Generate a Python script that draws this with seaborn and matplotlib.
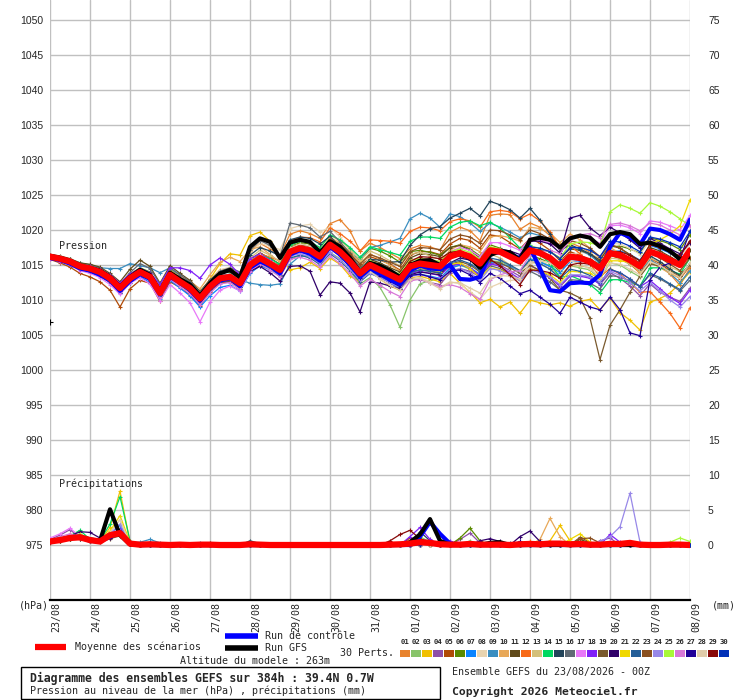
import matplotlib
matplotlib.use("Agg")
import matplotlib.pyplot as plt
import numpy as np
import pandas as pd
import seaborn as sns
from matplotlib.lines import Line2D
from matplotlib.patches import Rectangle
from matplotlib.transforms import ScaledTranslation

# Diagramme des ensembles GEFS (pression + precipitations), pas de 6h sur 384h
sns.set_style("white")
plt.rcParams['font.family'] = ['DejaVu Sans Mono', 'DejaVu Sans']

hours = list(range(0, 385, 6))
days = ['23/08', '24/08', '25/08', '26/08', '27/08', '28/08', '29/08', '30/08', '31/08',
        '01/09', '02/09', '03/09', '04/09', '05/09', '06/09', '07/09', '08/09']
perts = ['%02d' % k for k in range(1, 31)]
colors = ['#e8832e', '#88c46a', '#f0c000', '#8e4fa8', '#b04a06', '#5a8a00', '#0a84ff', '#e8d4b0',
          '#3a8ec0', '#e8a858', '#604a1a', '#f86a18', '#d4c07a', '#00d860', '#22445a', '#606a74',
          '#e878f8', '#8020f8', '#7a5a2e', '#30006a', '#f0d800', '#245e98', '#8a5020', '#9888e8',
          '#a8f838', '#d878d8', '#200098', '#e0ccaa', '#880808', '#0030b8']

# ---- pression (hPa) ----
p_mean = [1016.2,1015.9,1015.5,1014.8, 1014.5,1014.0,1013.1,1011.7, 1013.1,1014.0,1013.3,1011.0, 1013.6,1012.6,1011.7,1010.2,
          1011.9,1013.1,1013.3,1012.4, 1015.0,1016.0,1015.2,1014.3, 1016.9,1017.4,1017.1,1016.2, 1017.9,1016.9,1015.5,1013.8,
          1015.0,1014.3,1013.6,1012.9, 1014.8,1015.2,1015.0,1014.8, 1016.2,1016.7,1016.2,1015.2, 1017.1,1016.9,1016.2,1015.5,
          1017.1,1016.7,1016.0,1014.8, 1016.2,1016.0,1015.5,1014.5, 1016.7,1016.4,1015.7,1014.8, 1016.9,1016.4,1015.7,1015.0,
          1017.1]
p_ctrl = [1016.0,1015.7,1015.2,1014.5, 1014.2,1013.6,1012.8,1011.3, 1012.7,1013.7,1013.0,1010.8, 1013.3,1012.5,1011.4,1009.9,
          1011.7,1012.8,1013.1,1012.0, 1014.6,1015.5,1014.9,1013.8, 1016.5,1017.1,1016.6,1015.6, 1017.6,1016.5,1015.0,1013.3,
          1014.5,1013.8,1012.9,1012.3, 1014.2,1014.9,1014.5,1014.4, 1015.0,1013.0,1012.9,1013.3, 1016.7,1016.8,1016.6,1015.9,
          1017.5,1014.5,1011.4,1011.2, 1012.4,1012.5,1012.4,1013.6, 1017.6,1019.6,1019.0,1017.9, 1020.2,1020.0,1019.4,1018.6,
          1021.5]
p_gfs = [1016.3,1016.0,1015.6,1014.9, 1014.6,1014.2,1013.3,1011.9, 1013.3,1014.3,1013.6,1011.2, 1013.9,1013.0,1012.2,1010.6,
         1012.4,1013.8,1014.3,1013.2, 1017.6,1018.8,1018.3,1016.0, 1018.2,1018.6,1018.3,1016.8, 1018.4,1017.6,1016.0,1014.0,
         1015.3,1014.9,1014.2,1013.3, 1015.0,1015.6,1015.7,1015.0, 1016.3,1016.5,1016.0,1014.6, 1016.4,1017.0,1016.8,1015.7,
         1018.6,1018.9,1018.6,1017.5, 1018.8,1019.2,1018.9,1017.6, 1019.4,1019.7,1019.4,1018.0, 1018.2,1017.7,1017.0,1015.8,
         1016.2]

p01 = [1016.4,1016.1,1015.8,1015.0, 1014.8,1014.3,1013.4,1012.0, 1013.6,1014.5,1013.8,1011.6, 1014.2,1013.3,1012.4,1011.0,
       1012.9,1014.3,1014.5,1013.6, 1017.0,1018.1,1017.3,1016.4, 1019.4,1019.9,1019.5,1018.8, 1020.9,1021.5,1019.9,1017.0,
       1018.1,1017.5,1016.7,1015.9, 1017.3,1017.8,1017.6,1017.1, 1019.7,1020.4,1019.9,1018.5, 1022.1,1022.3,1022.2,1020.1,
       1021.0,1020.4,1019.2,1017.6, 1018.2,1017.6,1016.8,1015.3, 1017.0,1016.5,1015.2,1013.8, 1015.8,1014.9,1013.7,1012.1,
       1014.6]
p02 = [1016.0,1015.7,1015.3,1014.6, 1014.2,1013.7,1012.8,1011.3, 1012.8,1013.6,1012.9,1010.5, 1013.0,1012.1,1011.1,1009.5,
       1011.4,1012.5,1012.6,1011.6, 1014.1,1015.2,1014.3,1013.4, 1015.8,1016.4,1016.1,1015.0, 1016.8,1015.9,1014.1,1012.3,
       1013.2,1011.8,1009.3,1006.1, 1010.0,1012.3,1012.8,1013.0, 1014.6,1015.0,1014.4,1013.5, 1015.6,1015.5,1014.9,1014.1,
       1015.9,1015.5,1014.9,1013.4, 1014.9,1014.6,1014.3,1013.0, 1015.3,1015.0,1014.1,1013.3, 1015.4,1014.8,1013.9,1013.2,
       1015.3]
p03 = [1016.3,1016.0,1015.6,1014.9, 1014.6,1014.1,1013.2,1011.9, 1013.4,1014.4,1013.6,1011.4, 1014.1,1013.2,1012.3,1010.9,
       1013.0,1015.2,1016.6,1016.4, 1019.2,1019.7,1018.4,1016.0, 1014.3,1014.6,1015.4,1014.5, 1016.0,1015.1,1013.4,1012.6,
       1014.2,1013.0,1012.0,1011.4, 1013.1,1013.4,1013.0,1012.6, 1013.8,1012.4,1011.1,1009.6, 1010.1,1009.0,1009.7,1008.1,
       1010.0,1009.6,1009.3,1009.6, 1009.1,1009.8,1010.1,1008.6, 1010.3,1008.2,1007.1,1005.7, 1009.7,1010.2,1011.0,1012.4,
       1014.0]
p04 = [1016.1,1015.8,1015.4,1014.6, 1014.3,1013.8,1012.8,1011.3, 1012.9,1013.8,1013.0,1010.6, 1013.3,1012.2,1011.2,1009.6,
       1011.3,1012.4,1012.6,1011.5, 1014.3,1015.4,1014.7,1013.6, 1016.2,1016.9,1016.8,1015.6, 1017.3,1016.4,1015.0,1013.1,
       1014.2,1013.3,1012.4,1011.6, 1013.0,1012.9,1012.5,1012.2, 1013.9,1014.5,1014.1,1013.3, 1015.3,1015.0,1014.2,1013.4,
       1014.9,1014.2,1013.3,1011.9, 1013.4,1013.5,1013.3,1012.2, 1013.9,1013.1,1012.0,1010.6, 1012.3,1011.1,1010.4,1009.8,
       1011.7]
p05 = [1015.8,1015.3,1014.7,1013.8, 1013.3,1012.6,1011.4,1009.0, 1011.6,1012.8,1012.4,1009.8, 1012.6,1011.8,1010.7,1009.2,
       1011.1,1012.4,1012.7,1011.6, 1014.0,1015.1,1014.6,1013.9, 1016.5,1017.0,1016.9,1016.1, 1018.1,1017.4,1016.3,1014.8,
       1016.2,1015.7,1015.1,1014.3, 1016.4,1016.9,1016.9,1016.5, 1018.0,1018.8,1018.5,1017.4, 1019.3,1019.1,1018.2,1017.3,
       1018.8,1018.1,1017.1,1015.6, 1016.9,1016.4,1015.7,1014.5, 1016.4,1015.9,1015.1,1014.0, 1016.0,1015.2,1014.2,1013.0,
       1014.9]
p06 = [1016.4,1016.2,1015.8,1015.2, 1014.9,1014.5,1013.6,1012.3, 1013.7,1014.6,1014.0,1011.8, 1014.3,1013.4,1012.6,1011.2,
       1012.8,1013.9,1014.0,1013.1, 1015.5,1016.4,1015.6,1014.9, 1017.6,1018.2,1018.0,1017.0, 1018.8,1017.9,1016.8,1015.6,
       1017.4,1017.0,1016.3,1015.4, 1016.9,1017.1,1016.8,1016.4, 1017.5,1017.9,1017.3,1016.3, 1017.9,1017.4,1016.4,1015.3,
       1016.4,1015.9,1015.3,1014.1, 1015.8,1015.9,1015.8,1015.1, 1017.6,1017.7,1017.3,1016.7, 1018.9,1018.5,1018.0,1017.2,
       1019.3]
p07 = [1016.1,1015.8,1015.3,1014.6, 1014.2,1013.6,1012.6,1011.0, 1012.5,1013.3,1012.5,1010.2, 1012.8,1011.7,1010.6,1009.0,
       1010.6,1011.8,1012.1,1011.3, 1013.8,1014.9,1014.3,1013.6, 1016.3,1017.0,1016.8,1016.0, 1017.8,1016.6,1015.1,1013.4,
       1014.3,1013.4,1012.5,1011.7, 1013.5,1013.7,1013.4,1013.1, 1014.5,1015.0,1014.6,1013.7, 1015.5,1015.2,1014.8,1014.1,
       1015.8,1015.4,1014.8,1013.9, 1015.5,1015.6,1015.4,1014.8, 1017.0,1017.0,1016.5,1015.7, 1017.8,1017.3,1016.7,1016.2,
       1018.3]
p08 = [1016.4,1016.2,1015.9,1015.3, 1015.0,1014.5,1013.6,1012.2, 1013.5,1014.3,1013.6,1011.5, 1014.0,1013.2,1012.4,1011.1,
       1012.9,1014.3,1014.7,1013.9, 1016.8,1018.1,1017.7,1017.2, 1020.2,1020.6,1020.8,1019.7, 1020.4,1019.0,1017.2,1015.3,
       1016.0,1014.8,1013.6,1012.4, 1013.4,1013.2,1012.6,1011.8, 1012.6,1012.3,1011.2,1010.1, 1011.8,1012.4,1012.8,1012.9,
       1015.1,1015.6,1015.4,1014.6, 1016.4,1016.8,1016.7,1015.9, 1018.1,1018.0,1017.4,1016.5, 1018.5,1018.0,1017.0,1016.2,
       1018.0]
p09 = [1016.5,1016.2,1015.8,1015.3, 1015.0,1014.6,1014.5,1014.5, 1015.2,1014.9,1014.6,1013.9, 1014.6,1013.5,1012.6,1011.1,
       1012.5,1013.5,1013.7,1012.9, 1012.4,1012.2,1012.1,1012.3, 1015.1,1016.3,1016.4,1015.8, 1018.3,1017.6,1016.6,1015.9,
       1017.5,1017.8,1018.3,1018.8, 1021.6,1022.4,1021.7,1020.4, 1022.3,1021.9,1021.0,1019.8, 1021.0,1020.4,1019.7,1018.9,
       1019.6,1019.2,1018.5,1017.4, 1017.7,1017.1,1016.4,1015.2, 1017.1,1016.5,1015.4,1014.1, 1015.7,1014.9,1013.8,1012.5,
       1014.2]
p10 = [1016.2,1015.9,1015.6,1014.9, 1014.7,1014.2,1013.3,1011.8, 1013.4,1014.2,1013.7,1011.5, 1014.2,1013.4,1012.7,1011.6,
       1013.6,1015.4,1016.1,1015.5, 1017.2,1017.6,1016.5,1015.4, 1017.6,1018.0,1017.6,1016.9, 1018.9,1018.2,1016.9,1015.3,
       1016.6,1015.8,1015.0,1014.1, 1015.7,1016.0,1015.8,1015.5, 1017.1,1017.9,1017.6,1016.9, 1019.0,1019.2,1018.9,1018.4,
       1020.4,1020.2,1019.6,1018.2, 1019.4,1018.6,1017.4,1015.9, 1017.5,1016.7,1015.4,1013.8, 1015.4,1014.6,1013.8,1013.1,
       1015.0]
p11 = [1016.5,1016.3,1015.9,1015.3, 1015.1,1014.7,1013.8,1012.6, 1014.4,1015.7,1014.8,1012.4, 1014.9,1013.8,1012.8,1011.2,
       1012.9,1014.0,1014.2,1013.2, 1015.8,1016.7,1016.0,1015.1, 1017.5,1017.9,1017.7,1016.8, 1018.4,1017.5,1016.1,1014.5,
       1015.8,1015.3,1014.6,1014.0, 1016.0,1016.6,1016.5,1016.2, 1017.5,1017.8,1017.1,1016.0, 1017.5,1017.0,1016.3,1015.7,
       1017.3,1017.2,1016.9,1016.0, 1017.3,1017.1,1016.6,1015.7, 1017.8,1017.4,1016.5,1015.6, 1017.5,1017.0,1016.2,1015.4,
       1017.1]
p12 = [1016.3,1016.0,1015.6,1014.8, 1014.5,1014.0,1013.1,1011.6, 1013.0,1013.9,1013.1,1010.8, 1013.5,1012.5,1011.6,1010.1,
       1011.9,1013.2,1013.4,1012.7, 1015.4,1016.6,1016.1,1015.6, 1018.4,1019.0,1018.9,1018.3, 1020.3,1019.5,1018.4,1017.0,
       1018.6,1018.5,1018.4,1018.1, 1019.8,1020.4,1020.3,1019.9, 1021.2,1021.6,1021.3,1020.4, 1022.6,1022.8,1022.6,1021.6,
       1022.3,1021.3,1019.7,1017.5, 1017.8,1016.6,1015.1,1013.3, 1014.5,1013.7,1012.5,1011.1, 1011.2,1009.7,1008.1,1006.0,
       1008.9]
p13 = [1016.3,1016.0,1015.6,1014.9, 1014.7,1014.2,1013.3,1011.9, 1013.4,1014.3,1013.6,1011.4, 1014.0,1013.1,1012.2,1010.8,
       1012.6,1013.9,1014.1,1013.3, 1016.0,1017.1,1016.4,1015.5, 1018.1,1018.6,1018.3,1017.4, 1019.2,1018.5,1017.3,1015.7,
       1017.0,1016.4,1015.6,1014.9, 1016.6,1016.8,1016.3,1015.8, 1016.9,1017.1,1016.3,1015.1, 1016.6,1016.0,1015.0,1014.1,
       1015.5,1015.1,1014.5,1013.4, 1014.9,1014.9,1014.6,1013.8, 1016.0,1015.8,1015.1,1014.2, 1016.0,1015.4,1014.7,1014.1,
       1016.2]
p14 = [1016.2,1015.8,1015.4,1014.7, 1014.4,1013.8,1012.9,1011.5, 1012.9,1013.8,1013.1,1010.8, 1013.5,1012.5,1011.6,1010.2,
       1012.0,1013.3,1013.6,1012.8, 1015.4,1016.5,1015.9,1015.1, 1017.8,1018.4,1018.3,1017.5, 1019.3,1018.6,1017.5,1016.1,
       1017.6,1017.2,1016.8,1016.4, 1018.4,1019.0,1019.0,1018.8, 1020.4,1021.1,1021.3,1020.6, 1021.1,1020.3,1018.9,1017.4,
       1017.8,1016.6,1015.2,1013.2, 1013.5,1012.9,1012.2,1011.0, 1012.9,1012.9,1012.5,1012.0, 1014.6,1014.6,1014.2,1013.7,
       1016.0]
p15 = [1016.0,1015.6,1015.2,1014.4, 1014.0,1013.4,1012.5,1011.0, 1012.5,1013.5,1012.9,1010.6, 1013.2,1012.4,1011.6,1010.2,
       1012.1,1013.6,1014.2,1013.6, 1016.4,1017.5,1017.0,1016.3, 1018.6,1019.0,1018.8,1018.0, 1019.1,1017.6,1016.0,1014.3,
       1015.8,1015.7,1015.4,1015.5, 1017.8,1019.3,1020.2,1020.5, 1021.7,1022.4,1023.1,1022.0, 1024.1,1023.6,1022.9,1021.7,
       1023.1,1021.4,1019.4,1017.0, 1017.9,1017.3,1016.6,1015.4, 1016.7,1016.3,1015.5,1014.6, 1016.3,1015.5,1014.4,1013.5,
       1015.1]
p16 = [1016.4,1016.1,1015.7,1015.0, 1014.8,1014.4,1013.6,1012.3, 1013.9,1015.2,1014.5,1012.3, 1014.6,1013.6,1012.6,1011.1,
       1012.8,1014.1,1014.6,1014.0, 1017.1,1018.5,1017.8,1016.2, 1021.0,1020.7,1020.3,1019.0, 1019.8,1018.3,1016.7,1014.6,
       1015.5,1014.7,1013.9,1013.0, 1014.5,1014.6,1014.2,1013.8, 1014.9,1015.2,1014.5,1013.3, 1014.9,1014.5,1013.6,1012.8,
       1014.1,1013.4,1012.6,1011.4, 1012.9,1012.8,1012.4,1011.6, 1013.5,1013.3,1012.7,1012.0, 1013.6,1013.0,1012.2,1011.3,
       1012.8]
p17 = [1015.9,1015.5,1015.0,1014.2, 1013.8,1013.2,1012.2,1010.8, 1012.4,1013.2,1012.3,1009.9, 1012.2,1011.0,1009.6,1006.9,
       1009.7,1011.4,1012.0,1011.3, 1014.0,1015.2,1014.6,1013.7, 1016.3,1016.8,1016.5,1015.6, 1017.3,1016.3,1015.0,1013.3,
       1014.6,1014.0,1013.4,1012.8, 1014.9,1015.5,1015.5,1015.4, 1016.9,1017.5,1017.1,1016.2, 1018.2,1018.2,1017.7,1017.1,
       1018.8,1018.6,1018.1,1017.3, 1019.0,1019.1,1018.8,1018.1, 1020.6,1020.7,1020.3,1019.5, 1021.3,1021.1,1020.6,1020.0,
       1022.1]
p18 = [1016.2,1015.9,1015.6,1015.0, 1014.8,1014.4,1013.6,1012.4, 1013.7,1014.5,1013.9,1012.2, 1014.6,1014.6,1014.2,1013.1,
       1015.0,1016.0,1015.1,1013.6, 1015.9,1016.6,1015.7,1014.6, 1017.2,1017.6,1017.2,1016.2, 1017.7,1016.6,1015.1,1013.3,
       1014.4,1013.6,1012.8,1012.0, 1013.8,1014.1,1013.8,1013.5, 1014.8,1015.2,1014.6,1013.5, 1015.2,1014.8,1013.9,1013.0,
       1014.5,1013.9,1013.2,1012.0, 1013.5,1013.4,1013.1,1012.3, 1014.3,1013.9,1013.0,1011.9, 1012.8,1011.6,1010.4,1009.5,
       1011.4]
p19 = [1016.1,1015.8,1015.4,1014.7, 1014.4,1013.9,1013.0,1011.6, 1013.0,1013.9,1013.2,1010.9, 1013.4,1012.4,1011.5,1010.0,
       1011.7,1012.9,1013.1,1012.2, 1014.7,1015.7,1014.9,1014.0, 1016.6,1017.0,1016.7,1015.8, 1017.5,1016.5,1015.1,1013.4,
       1014.5,1013.8,1013.0,1012.3, 1014.0,1014.3,1014.1,1013.8, 1015.1,1015.5,1015.0,1014.0, 1015.6,1015.3,1014.6,1013.8,
       1015.0,1014.2,1013.1,1011.4, 1011.0,1010.3,1007.4,1001.5, 1006.4,1008.6,1011.1,1013.4, 1015.2,1014.8,1014.1,1013.4,
       1015.2]
p20 = [1016.0,1015.6,1015.2,1014.5, 1014.2,1013.6,1012.7,1011.3, 1012.8,1013.7,1013.0,1010.7, 1013.3,1012.3,1011.4,1009.9,
       1011.6,1012.7,1012.8,1011.8, 1014.1,1014.8,1013.9,1012.7, 1014.8,1014.9,1014.1,1010.7, 1012.6,1012.4,1011.0,1008.3,
       1012.6,1012.4,1012.0,1011.6, 1013.6,1014.0,1013.8,1013.6, 1015.3,1016.0,1015.7,1014.8, 1017.2,1017.3,1017.0,1016.5,
       1018.4,1018.4,1018.0,1016.7, 1021.7,1022.1,1020.3,1019.2, 1020.4,1019.6,1018.6,1017.4, 1018.8,1018.1,1017.3,1016.6,
       1018.2]
p21 = [1016.2,1015.9,1015.5,1014.8, 1014.6,1014.1,1013.3,1011.9, 1013.3,1014.2,1013.5,1011.3, 1013.9,1012.9,1012.0,1010.5,
       1012.2,1013.4,1013.5,1012.6, 1015.1,1016.0,1015.2,1014.4, 1016.9,1017.3,1017.0,1016.1, 1017.7,1016.6,1015.3,1013.5,
       1014.6,1013.9,1013.2,1012.5, 1014.3,1014.6,1014.3,1014.0, 1015.1,1015.3,1014.5,1013.2, 1014.6,1014.3,1013.6,1012.8,
       1014.5,1014.1,1013.6,1012.5, 1014.1,1014.0,1013.8,1013.0, 1015.6,1015.6,1015.4,1015.0, 1018.0,1018.6,1019.4,1020.6,
       1024.3]
p22 = [1016.0,1015.7,1015.3,1014.6, 1014.3,1013.8,1012.9,1011.5, 1012.9,1013.7,1013.0,1010.7, 1013.2,1012.2,1011.3,1009.8,
       1011.4,1012.6,1012.8,1011.9, 1014.4,1015.3,1014.5,1013.6, 1016.0,1016.4,1016.0,1015.1, 1016.6,1015.6,1014.2,1012.6,
       1013.8,1013.2,1012.6,1012.0, 1013.9,1014.3,1014.1,1013.9, 1015.3,1015.7,1015.2,1014.2, 1016.0,1015.7,1015.0,1014.2,
       1015.7,1015.2,1014.4,1013.1, 1014.4,1014.1,1013.5,1012.4, 1014.4,1013.9,1013.0,1011.9, 1013.8,1013.2,1012.3,1011.5,
       1013.3]
p23 = [1016.3,1016.0,1015.6,1014.9, 1014.6,1014.2,1013.3,1011.9, 1013.3,1014.2,1013.5,1011.2, 1013.8,1012.8,1011.9,1010.4,
       1012.1,1013.3,1013.5,1012.6, 1015.2,1016.2,1015.5,1014.6, 1017.3,1017.9,1017.7,1016.9, 1018.7,1017.9,1016.6,1015.1,
       1016.5,1016.0,1015.4,1014.8, 1016.9,1017.5,1017.4,1017.2, 1018.7,1019.3,1019.0,1018.1, 1020.0,1019.9,1019.3,1018.6,
       1020.0,1019.5,1018.7,1017.4, 1018.5,1018.1,1017.4,1016.2, 1018.0,1017.4,1016.4,1015.2, 1016.8,1016.0,1015.1,1014.2,
       1016.0]
p24 = [1016.1,1015.8,1015.5,1014.8, 1014.5,1014.0,1013.1,1011.8, 1013.2,1014.0,1013.3,1011.1, 1013.6,1012.6,1011.7,1010.3,
       1012.0,1013.2,1013.4,1012.5, 1015.0,1015.8,1014.9,1013.9, 1016.3,1016.6,1016.2,1015.2, 1016.8,1015.7,1014.4,1012.8,
       1013.9,1013.2,1012.5,1011.8, 1013.4,1013.6,1013.3,1013.0, 1014.2,1014.5,1013.9,1012.8, 1014.5,1014.2,1013.5,1012.8,
       1014.3,1013.9,1013.3,1012.2, 1013.6,1013.6,1013.3,1012.6, 1014.1,1013.5,1012.5,1011.3, 1012.5,1011.3,1010.0,1009.0,
       1010.5]
p25 = [1016.2,1015.9,1015.5,1014.9, 1014.6,1014.2,1013.3,1011.9, 1013.3,1014.2,1013.5,1011.2, 1013.8,1012.8,1011.9,1010.4,
       1012.1,1013.3,1013.5,1012.7, 1015.3,1016.3,1015.5,1014.6, 1017.2,1017.7,1017.4,1016.5, 1018.2,1017.2,1015.9,1014.3,
       1015.6,1015.0,1014.3,1013.7, 1015.6,1015.9,1015.7,1015.5, 1016.9,1017.3,1016.8,1015.8, 1017.6,1017.3,1016.6,1015.9,
       1017.7,1017.4,1016.9,1016.0, 1018.0,1018.3,1018.2,1017.7, 1022.6,1023.6,1023.1,1022.4, 1023.9,1023.4,1022.6,1021.6,
       1020.6]
p26 = [1015.9,1015.6,1015.2,1014.5, 1014.2,1013.7,1012.7,1011.2, 1012.7,1013.6,1012.8,1010.4, 1013.0,1011.9,1010.9,1009.3,
       1011.0,1012.3,1012.5,1011.5, 1014.2,1015.2,1014.3,1013.3, 1015.8,1016.1,1015.7,1014.7, 1016.3,1015.2,1013.8,1012.0,
       1013.0,1012.1,1011.2,1010.5, 1012.7,1013.0,1012.4,1011.9, 1012.2,1011.8,1010.9,1010.1, 1012.9,1013.6,1014.0,1014.2,
       1016.4,1016.9,1017.1,1016.6, 1018.6,1019.3,1019.5,1018.9, 1020.8,1021.0,1020.6,1019.9, 1021.0,1020.7,1020.0,1019.3,
       1020.6]
p27 = [1016.3,1016.0,1015.6,1014.9, 1014.6,1014.1,1013.2,1011.8, 1013.2,1014.1,1013.4,1011.1, 1013.7,1012.7,1011.8,1010.3,
       1012.0,1013.2,1013.4,1012.5, 1015.1,1016.1,1015.3,1014.4, 1016.9,1017.4,1017.0,1016.1, 1017.6,1016.5,1015.0,1013.2,
       1014.3,1013.5,1012.7,1011.9, 1013.5,1013.7,1013.3,1012.9, 1014.1,1014.3,1013.6,1012.5, 1013.8,1013.1,1012.0,1010.9,
       1011.4,1010.4,1009.4,1008.1, 1010.4,1009.7,1009.0,1008.6, 1010.4,1008.6,1005.3,1004.9, 1012.9,1014.7,1015.3,1015.8,
       1019.9]
p28 = [1016.4,1016.1,1015.7,1015.0, 1014.7,1014.3,1013.4,1012.0, 1013.4,1014.3,1013.6,1011.3, 1013.9,1012.9,1012.0,1010.5,
       1012.2,1013.4,1013.6,1012.8, 1015.4,1016.4,1015.6,1014.7, 1017.4,1018.0,1017.7,1016.8, 1018.4,1017.0,1015.3,1013.4,
       1014.1,1013.0,1012.1,1011.4, 1012.9,1013.1,1012.4,1011.6, 1012.5,1012.5,1011.7,1011.0, 1013.1,1013.5,1013.4,1013.0,
       1015.4,1015.6,1015.3,1014.4, 1015.6,1015.2,1014.4,1013.3, 1015.3,1015.1,1014.4,1013.6, 1015.5,1014.9,1014.0,1013.2,
       1015.3]
p29 = [1016.2,1015.9,1015.5,1014.8, 1014.5,1014.0,1013.2,1011.8, 1013.2,1014.1,1013.4,1011.1, 1013.7,1012.7,1011.8,1010.3,
       1012.0,1013.2,1013.4,1012.5, 1015.0,1015.9,1015.1,1014.2, 1016.8,1017.2,1016.9,1016.0, 1017.6,1016.6,1015.2,1013.6,
       1014.9,1014.4,1013.8,1013.3, 1015.5,1016.2,1016.1,1015.9, 1016.8,1017.0,1016.2,1014.9, 1015.8,1014.9,1013.6,1012.2,
       1014.3,1014.2,1013.9,1013.1, 1015.0,1015.3,1015.1,1014.3, 1016.9,1016.9,1016.4,1015.6, 1017.9,1017.5,1016.9,1016.3,
       1018.5]
p30 = [1016.1,1015.8,1015.4,1014.7, 1014.4,1013.9,1013.0,1011.6, 1013.0,1013.9,1013.2,1010.9, 1013.5,1012.5,1011.6,1010.1,
       1011.8,1013.0,1013.2,1012.3, 1014.9,1015.9,1015.1,1014.2, 1016.8,1017.3,1017.0,1016.1, 1017.8,1016.8,1015.4,1013.7,
       1014.9,1014.2,1013.5,1012.8, 1014.7,1015.1,1014.9,1014.7, 1016.1,1016.6,1016.1,1015.1, 1017.1,1017.0,1016.4,1015.8,
       1017.6,1017.4,1016.9,1015.9, 1017.5,1017.5,1017.1,1016.2, 1018.4,1018.3,1017.7,1016.9, 1019.0,1018.7,1018.2,1017.6,
       1019.8]

# ---- precipitations (mm / 6h) ----
r_mean = [.5,.7,1.0,1.1, .7,.5,1.4,1.7, .2,.05,.1,.05, 0,.05,0,.05,
          .05,0,0,0, .1,.05,0,0, 0,0,0,0, 0,0,0,0,
          0,0,.05,.1, .2,.4,.3,.1, .05,.05,.15,.05, .05,.05,0,.1,
          .15,.1,.2,.2, .1,.15,.05,.05, .15,.15,.3,.05, 0,0,.05,.05,
          0]
r_ctrl = [.5,.7,1.0,1.1, .6,.5,1.2,1.9, .2,0,0,0, 0,0,0,0,
          0,0,0,0, 0,0,0,0, 0,0,0,0, 0,0,0,0,
          0,0,0,0, 0,1.2,3.3,1.6, .2,0,0,0, 0,0,0,0,
          0,0,0,0, 0,0,0,0, 0,0,0,0, 0,0,0,0,
          0]
r_gfs = [.5,.8,1.0,1.2, .8,.6,5.1,1.4, .1,0,0,0, 0,0,0,0,
         0,0,0,0, 0,0,0,0, 0,0,0,0, 0,0,0,0,
         0,0,0,0, .4,1.5,3.7,.6, 0,0,0,0, .3,.4,0,0,
         0,0,0,0, 0,0,0,0, 0,0,0,0, 0,0,0,0,
         0]
r01 = [.6,.9,1.0,.8, .5,.6,1.2,1.6, .2,0,0,.2, 0,0,0,0,
       0,0,0,0, 0,0,0,0, 0,0,0,0, 0,0,0,0,
       0,0,0,0, 0,.8,.3,0, 0,0,0,0, 0,0,0,0,
       .4,0,0,0, 0,0,0,0, 0,0,0,0, 0,0,0,0, 0]
r02 = [.4,.7,1.2,1.6, .6,.4,1.3,2.0, .3,0,.3,0, 0,0,0,0,
       0,0,0,0, 0,0,0,0, 0,0,0,0, 0,0,0,0,
       0,0,0,0, .5,1.2,.4,0, 0,0,.6,0, 0,0,0,0,
       0,0,0,0, 0,0,0,0, 0,0,0,0, 0,0,0,0, 0]
r03 = [.5,.8,1.1,1.3, .7,.5,2.5,7.7, .4,0,0,0, 0,0,0,0,
       0,0,0,0, 0,0,0,0, 0,0,0,0, 0,0,0,0,
       0,0,0,0, 0,0,0,0, 0,0,0,0, 0,0,0,0,
       0,0,.6,2.8, .6,0,0,0, 0,0,0,0, 0,0,0,0, 0]
r04 = [.8,1.4,2.2,1.0, .7,.5,1.0,1.5, .2,0,0,0, 0,0,0,0,
       0,0,0,0, 0,0,0,0, 0,0,0,0, 0,0,0,0,
       0,0,0,0, 0,1.0,.4,0, 0,.8,1.7,.3, 0,0,0,0,
       0,0,0,0, 0,0,0,.6, 1.0,0,0,0, 0,0,0,0, 0]
r05 = [.3,.5,.8,.9, .6,.6,1.3,1.9, .2,0,0,0, 0,0,0,0,
       0,0,0,0, 0,0,0,0, 0,0,0,0, 0,0,0,0,
       0,0,0,0, 1.0,.5,0,0, 0,0,0,0, 0,0,0,0,
       0,0,0,0, 0,0,0,0, 0,0,0,0, 0,0,0,0, 0]
r06 = [.5,.6,.9,1.1, .5,.4,1.1,1.7, .2,0,0,0, 0,0,0,0,
       0,.2,0,0, 0,0,0,0, 0,0,0,0, 0,0,0,0,
       0,0,0,0, 0,0,0,0, 0,1.0,2.4,.6, 0,0,0,0,
       0,0,0,0, 0,.4,0,0, 0,0,0,0, 0,0,0,0, 0]
r07 = [.6,.8,1.2,1.4, .7,.5,1.6,2.8, .3,0,.4,0, 0,0,0,0,
       0,0,0,0, 0,0,0,0, 0,0,0,0, 0,0,0,0,
       0,0,0,0, 0,0,.5,0, 0,0,0,0, 0,0,0,0,
       0,0,0,0, 0,0,0,0, 0,0,0,0, 0,0,0,0, 0]
r08 = [.4,.9,1.6,1.0, .5,.5,1.9,3.6, .3,0,0,0, 0,0,0,0,
       0,0,0,0, 0,0,0,0, 0,0,0,0, 0,0,0,0,
       0,0,0,0, 0,0,0,0, 0,0,0,0, 0,0,0,0,
       0,.5,0,0, 0,0,0,0, 0,0,0,0, 0,0,0,0, 0]
r09 = [.5,.7,1.0,1.2, .9,.7,1.2,1.8, .3,.4,.8,.3, 0,0,0,.3,
       0,0,0,0, 0,0,0,0, 0,0,0,0, 0,0,0,0,
       0,0,0,0, 0,0,0,0, 0,0,0,0, .4,0,0,0,
       0,0,0,0, 0,0,0,0, 0,0,0,0, 0,0,0,0, 0]
r10 = [.6,.9,1.3,1.1, .6,.4,1.2,1.7, .2,0,0,0, 0,0,0,0,
       0,0,0,0, 0,0,0,0, 0,0,0,0, 0,0,0,0,
       0,0,0,0, 0,0,0,0, 0,0,0,0, 0,0,0,0,
       0,.8,3.8,1.2, 0,0,0,0, 0,0,0,0, 0,0,0,0, 0]
r11 = [.5,.8,.9,1.0, .6,.5,1.0,1.4, .2,0,0,0, 0,0,0,0,
       .3,0,0,0, 0,0,0,0, 0,0,0,0, 0,0,0,0,
       0,0,0,0, 0,0,0,0, 0,0,0,0, 0,.4,0,0,
       0,0,0,0, 0,.8,.3,0, 0,0,0,0, 0,0,0,0, 0]
r12 = [.4,.6,.8,1.2, .7,.6,1.4,2.0, .2,0,0,0, 0,0,0,0,
       0,0,0,0, 0,0,0,0, 0,0,0,0, 0,0,0,0,
       0,0,0,0, 0,0,0,0, 0,0,0,0, 0,0,0,.3,
       .5,0,0,0, 0,0,0,0, 0,0,0,0, 0,0,0,0, 0]
r13 = [.5,.7,1.0,1.3, .6,.5,1.3,1.9, .2,0,0,0, 0,0,0,0,
       0,0,0,0, 0,0,0,0, 0,0,0,0, 0,0,0,0,
       0,0,0,0, 0,0,0,0, 0,0,0,0, 0,0,0,0,
       0,0,0,0, .4,0,0,0, 0,0,0,0, 0,0,0,0, 0]
r14 = [.7,1.0,1.3,2.1, .8,.6,3.0,6.9, .6,0,0,0, 0,0,0,0,
       0,0,0,0, 0,0,0,0, 0,0,0,0, 0,0,0,0,
       0,0,0,0, .4,.7,0,0, 0,0,0,0, 0,0,0,0,
       0,0,0,0, 0,0,0,0, 0,0,0,0, 0,0,0,0, 0]
r15 = [.4,.6,.8,.9, .5,.5,1.1,1.6, .2,0,.3,0, 0,0,0,0,
       0,0,0,0, .6,.2,0,0, 0,0,0,0, 0,0,0,0,
       0,0,0,0, 0,1.9,.6,0, 0,0,0,0, 0,0,0,0,
       0,0,0,0, 0,0,0,0, 0,0,0,0, 0,0,0,0, 0]
r16 = [.4,.7,1.0,1.1, .6,.5,1.2,1.7, .2,0,0,0, 0,0,0,0,
       0,0,0,0, .4,0,0,0, 0,0,0,0, 0,0,0,0,
       0,0,0,0, 0,0,0,0, 0,0,0,0, .3,0,0,0,
       0,0,0,0, 0,0,0,0, 0,0,0,0, 0,0,0,0, 0]
r17 = [1.0,1.6,2.4,1.2, .6,.5,1.3,2.0, .2,0,0,0, 0,0,0,0,
       0,0,0,0, 0,0,0,0, 0,0,0,0, 0,0,0,0,
       0,0,0,0, 0,0,0,0, 0,0,0,0, 0,0,0,0,
       0,.4,0,0, 0,0,0,0, .5,0,0,0, 0,0,0,0, 0]
r18 = [.6,.9,1.4,1.3, .8,.6,1.5,2.3, .3,0,0,0, 0,.2,0,0,
       0,0,0,0, 0,0,0,0, 0,0,0,0, 0,0,0,0,
       0,0,0,0, 1.2,2.5,.8,0, .6,0,0,0, 0,0,0,0,
       0,0,0,0, 0,0,0,0, 1.5,.4,0,0, 0,0,0,0, 0]
r19 = [.5,.6,.9,1.0, .5,.4,.9,1.3, .1,0,0,0, 0,0,0,0,
       0,0,.2,0, 0,0,0,0, 0,0,0,0, 0,0,0,0,
       0,0,0,0, 0,0,0,0, 0,0,0,0, 0,0,0,0,
       0,0,0,0, 0,1.1,.4,0, 0,0,0,0, 0,0,0,0, 0]
r20 = [.5,.9,1.3,1.9, 1.8,1.0,1.1,1.5, .1,0,0,0, 0,0,0,0,
       0,0,0,0, 0,0,0,0, 0,0,0,0, 0,0,0,0,
       0,0,0,0, 0,0,0,0, 0,0,0,.6, .9,.5,0,1.2,
       2.0,.5,0,0, 0,0,0,.4, 0,0,0,0, 0,0,0,0, 0]
r21 = [.5,.7,1.0,1.5, .7,.5,2.0,4.2, .4,0,0,0, 0,0,0,0,
       0,0,0,0, 0,0,0,0, 0,0,.2,0, 0,0,0,0,
       0,0,0,0, 0,.3,0,0, 0,0,0,0, 0,0,0,0,
       0,0,0,0, .8,1.6,.4,0, 0,0,0,0, 0,0,0,.3, 0]
r22 = [.5,.7,1.0,1.1, .5,.5,1.1,1.6, .2,0,0,0, 0,0,0,0,
       0,0,0,0, 0,0,0,0, 0,0,0,0, 0,0,0,0,
       0,0,0,0, 0,0,0,.3, 0,0,0,0, 0,0,.3,0,
       0,0,0,0, 0,0,0,0, 0,0,0,0, 0,0,0,0, 0]
r23 = [.4,.6,.9,1.0, .6,.5,1.0,1.5, .1,0,0,0, 0,0,0,0,
       0,0,0,0, 0,0,0,0, 0,0,0,0, 0,0,0,0,
       0,0,0,0, 0,0,0,0, 0,0,0,0, 0,0,0,0,
       0,0,0,0, 0,.9,1.0,.3, 0,0,0,0, 0,0,0,0, 0]
r24 = [.6,.8,1.1,1.0, .6,.5,1.6,3.0, .3,0,0,0, 0,0,0,0,
       0,0,0,0, 0,0,0,0, 0,0,0,0, 0,0,0,0,
       0,0,0,0, 0,0,0,0, 0,0,0,0, 0,0,0,0,
       0,0,0,0, 0,0,0,.5, 1.2,2.6,7.4,.4, .2,0,0,0, 0]
r25 = [.6,.9,1.2,1.4, .8,.6,4.7,2.0, .3,0,0,0, 0,0,0,0,
       0,0,0,0, 0,0,0,0, 0,0,0,0, 0,0,0,0,
       0,0,0,0, .6,1.2,0,0, 0,0,0,0, 0,0,0,0,
       0,0,0,0, 0,0,0,0, 0,0,0,0, 0,0,.4,1.0, .5]
r26 = [.6,1.2,1.6,1.1, .5,.4,1.3,2.0, .2,0,0,0, 0,0,0,0,
       0,0,0,0, 0,0,0,0, 0,0,0,0, 0,0,0,0,
       0,0,0,0, 0,0,0,0, 0,0,0,0, 0,0,0,0,
       0,0,0,0, 0,0,0,0, 0,0,0,0, .3,0,0,0, 0]
r27 = [.4,.7,1.1,1.2, .6,.5,1.0,1.5, .1,0,0,0, 0,0,0,0,
       0,0,0,0, 0,0,0,0, 0,0,0,0, 0,0,0,0,
       0,0,0,0, 0,.9,.3,0, 0,0,0,0, 0,0,0,.5,
       0,0,0,0, 0,0,0,0, 0,0,0,0, 0,0,0,0, 0]
r28 = [.5,.8,1.3,1.2, .5,.5,1.8,3.6, .2,0,0,0, 0,0,0,0,
       0,0,0,0, 0,0,0,0, 0,0,0,0, 0,0,0,0,
       0,0,0,0, 0,0,0,0, 0,0,0,0, 0,0,0,0,
       0,0,0,0, 0,0,0,0, 0,0,0,0, 0,0,0,0, 0]
r29 = [.5,.7,1.0,1.0, .6,.5,1.2,1.7, .1,0,0,0, 0,0,0,0,
       0,0,0,0, 0,0,0,0, 0,0,0,0, 0,0,0,0,
       0,0,.6,1.5, 2.1,.9,.3,0, 0,0,0,0, 0,0,0,0,
       0,0,0,0, 0,0,0,0, 0,0,0,0, 0,0,0,0, 0]
r30 = [.5,.8,1.1,1.2, .7,.5,1.3,1.8, .2,0,0,0, 0,0,0,0,
       0,0,0,0, 0,0,0,0, 0,0,0,0, 0,0,0,0,
       0,0,0,0, 0,0,.4,0, 0,0,0,0, 0,0,0,0,
       0,0,0,0, 0,0,0,0, 0,0,0,0, 0,0,0,0, 0]

press = [p01, p02, p03, p04, p05, p06, p07, p08, p09, p10, p11, p12, p13, p14, p15,
         p16, p17, p18, p19, p20, p21, p22, p23, p24, p25, p26, p27, p28, p29, p30]
rain = [r01, r02, r03, r04, r05, r06, r07, r08, r09, r10, r11, r12, r13, r14, r15,
        r16, r17, r18, r19, r20, r21, r22, r23, r24, r25, r26, r27, r28, r29, r30]
bad = [k for k, s in enumerate(press + rain + [p_mean, p_ctrl, p_gfs, r_mean, r_ctrl, r_gfs])
       if len(s) != len(hours)]
assert not bad, bad

df = pd.DataFrame({'h': np.tile(hours, 30),
                   'p': np.concatenate(press),
                   'r': np.concatenate(rain),
                   'pert': np.repeat(perts, len(hours))})
pal = dict(zip(perts, colors))

W, H = 740, 700
fig = plt.figure(figsize=(W / 100, H / 100), dpi=100)
ax = fig.add_axes([50 / W, 100 / H, 640 / W, 600 / H])
ylim = (1050 - 580 / 7, 1050 + 20 / 7)


def members(axe, col):
    # 30 perturbations, traits fins avec croix a chaque echeance
    sns.lineplot(data=df, x='h', y=col, hue='pert', palette=pal, estimator=None, sort=False,
                 lw=0.9, marker='+', markersize=3.5, legend=False, ax=axe)
    for ln in axe.get_lines():
        ln.set_markeredgecolor(ln.get_color())
        ln.set_markeredgewidth(0.8)


# pression
members(ax, 'p')
sns.lineplot(x=hours, y=p_ctrl, color='#0000ff', lw=3, ax=ax)
sns.lineplot(x=hours, y=p_gfs, color='black', lw=3, ax=ax)
sns.lineplot(x=hours, y=p_mean, color='#ff0000', lw=4.5, ax=ax)
ax.plot([0], [1006.9], marker='+', color='black', ms=4, mew=0.8)

ax.set_xlim(0, 384)
ax.set_ylim(*ylim)
ax.set_yticks(range(975, 1051, 5))
ax.set_xticks(range(0, 385, 24))
ax.set_xticklabels(days, rotation=90, va='top', ha='center', fontsize=7.2)
ax.grid(True, color='#c0c0c0', lw=1)
ax.set_axisbelow(True)
ax.tick_params(axis='y', length=0, pad=5, labelsize=7.5)
ax.tick_params(axis='x', length=0, pad=1.5)
for lab in ax.get_yticklabels():
    lab.set_fontfamily('Liberation Sans')
for lab in ax.get_xticklabels():
    lab.set_transform(lab.get_transform() + ScaledTranslation(6 / 100, 0, fig.dpi_scale_trans))
for s in ['top', 'left', 'right']:
    ax.spines[s].set_visible(False)
ax.spines['bottom'].set_color('black')
ax.spines['bottom'].set_linewidth(1.6)
ax.set_xlabel('')
ax.set_ylabel('')

# precipitations (axe de droite, 0 mm = 975 hPa)
ax2 = ax.twinx()
members(ax2, 'r')
sns.lineplot(x=hours, y=r_ctrl, color='#0000ff', lw=3, ax=ax2)
sns.lineplot(x=hours, y=r_gfs, color='black', lw=3, ax=ax2)
sns.lineplot(x=hours, y=r_mean, color='#ff0000', lw=4.5, ax=ax2)
ax2.set_ylim(ylim[0] - 975, ylim[1] - 975)
ax2.set_xlim(0, 384)
ax2.set_yticks(range(0, 76, 5))
ax2.tick_params(axis='y', length=0, pad=13, labelsize=7.5)
for lab in ax2.get_yticklabels():
    lab.set_fontfamily('Liberation Sans')
for s in ax2.spines.values():
    s.set_visible(False)
ax2.set_ylabel('')
ax2.grid(False)


def fx(x):
    return x / W


def fy(y):
    return 1 - y / H


txt = dict(va='center', ha='left', fontsize=7.2)
fig.text(fx(59), fy(246), 'Pression', **txt)
fig.text(fx(59), fy(484), 'Précipitations', **txt)
fig.text(fx(19), fy(606), '(hPa)', **txt)
fig.text(fx(712), fy(606), '(mm)', **txt)

# legende
fig.add_artist(Line2D([fx(35), fx(66)], [fy(647)] * 2, color='#ff0000', lw=4.5, solid_capstyle='butt'))
fig.text(fx(75), fy(647), 'Moyenne des scénarios', **txt)
fig.add_artist(Line2D([fx(225), fx(258)], [fy(636)] * 2, color='#0000ff', lw=4, solid_capstyle='butt'))
fig.text(fx(265), fy(636), 'Run de contrôle', **txt)
fig.add_artist(Line2D([fx(225), fx(258)], [fy(648)] * 2, color='black', lw=4, solid_capstyle='butt'))
fig.text(fx(265), fy(648), 'Run GFS', **txt)
fig.text(fx(340), fy(653), '30 Perts.', **txt)
for k, (name, col) in enumerate(zip(perts, colors)):
    x0 = 400 + 11 * k
    fig.add_artist(Rectangle((fx(x0), fy(657)), 10 / W, 7 / H, color=col, lw=0))
    fig.text(fx(x0 + 5), fy(642), name, ha='center', va='center', fontsize=5.2, fontweight='bold')
fig.text(fx(180), fy(661), 'Altitude du modele : 263m', **txt)

fig.add_artist(Rectangle((fx(21), fy(699)), 419 / W, 32 / H, fill=False, ec='black', lw=1))
fig.text(fx(30), fy(678), 'Diagramme des ensembles GEFS sur 384h : 39.4N 0.7W',
         va='center', ha='left', fontsize=8.3, fontweight='bold')
fig.text(fx(30), fy(691), 'Pression au niveau de la mer (hPa) , précipitations (mm)', **txt)
fig.text(fx(452), fy(672), 'Ensemble GEFS du 23/08/2026 - 00Z', **txt)
fig.text(fx(452), fy(692), 'Copyright 2026 Meteociel.fr',
         va='center', ha='left', fontsize=8.2, fontweight='bold')

fig.savefig('out.png', dpi=100)
